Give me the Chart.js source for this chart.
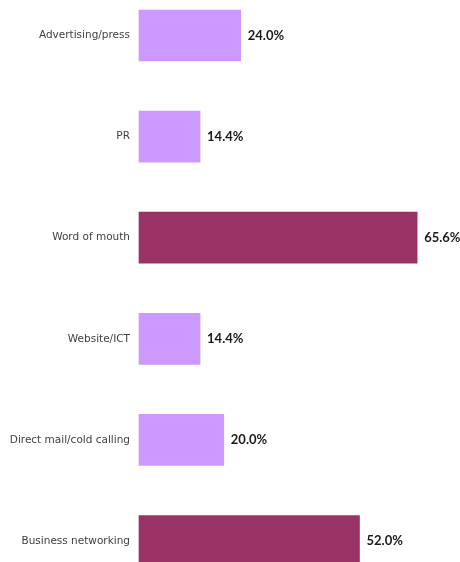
<!DOCTYPE html>
<html>
<head>
<meta charset="utf-8">
<script src="https://cdn.jsdelivr.net/npm/chart.js@4"></script>
<style>
  html, body { margin: 0; padding: 0; background: #fff; overflow: hidden; }
  #wrap { width: 460px; height: 562px; position: relative; }
</style>
</head>
<body>
<div id="wrap"><canvas id="sources"></canvas></div>
<script>
// categories top to bottom, shares in percent
let categories = ['Advertising/press', 'PR', 'Word of mouth', 'Website/ICT', 'Direct mail/cold calling', 'Business networking'];
let shares = [24.0, 14.4, 65.6, 14.4, 20.0, 52.0];
let highlighted = [false, false, true, false, false, true];

let lightColor = '#CC99FF';
let darkColor = '#993366';

// value text at the end of each bar
let valueLabels = {
    id: 'valueLabels',
    afterDatasetsDraw(chart) {
        let ctx = chart.ctx;
        let meta = chart.getDatasetMeta(0);
        ctx.save();
        ctx.font = 'bold 13px Lato, "DejaVu Sans", sans-serif';
        ctx.fillStyle = '#1a1a1a';
        ctx.textAlign = 'left';
        ctx.textBaseline = 'middle';
        meta.data.forEach((bar, i) => {
            ctx.fillText(shares[i].toFixed(1) + '%', bar.x + 7, bar.y);
        });
        ctx.restore();
    }
};

let canvas = document.querySelector('#sources').getContext('2d');
window.canvasObj = new Chart(canvas, {
    type: 'bar',
    data: {
        labels: categories,
        datasets: [{
            data: shares,
            backgroundColor: highlighted.map(h => h ? darkColor : lightColor),
            borderWidth: 0,
            barThickness: 51,
            clip: false
        }]
    },
    options: {
        indexAxis: 'y',
        responsive: true,
        maintainAspectRatio: false,
        animation: false,
        layout: { padding: { top: 35.5, bottom: 21, left: 0, right: 3 } },
        plugins: {
            legend: { display: false },
            tooltip: { enabled: false }
        },
        scales: {
            x: {
                display: false,
                min: 0,
                max: 75
            },
            y: {
                offset: false,
                grid: { display: false, drawTicks: false },
                border: { display: false },
                afterFit(scale) { scale.width = 139; },
                ticks: {
                    padding: 9,
                    color: '#404040',
                    font: { family: '"DejaVu Sans", sans-serif', size: 10.5 }
                }
            }
        }
    },
    plugins: [valueLabels]
});
</script>
</body>
</html>
